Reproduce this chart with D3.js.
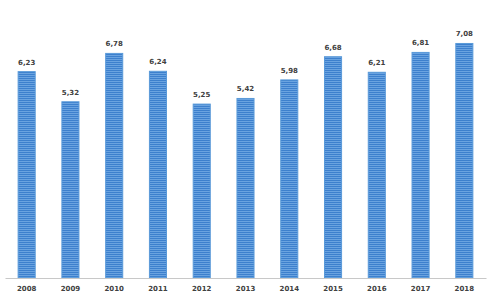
<!DOCTYPE html>
<html>
<head>
<meta charset="utf-8">
<script src="https://cdn.jsdelivr.net/npm/d3@7"></script>
<style>
  body { margin: 0; background: #fff; }
  svg { display: block; }
</style>
</head>
<body>
<div class="chart"></div>
<script>
var width = 490, height = 306;

var years = ['2008', '2009', '2010', '2011', '2012', '2013', '2014', '2015', '2016', '2017', '2018'];
var values = [6.23, 5.32, 6.78, 6.24, 5.25, 5.42, 5.98, 6.68, 6.21, 6.81, 7.08];
var labels = ['6,23', '5,32', '6,78', '6,24', '5,25', '5,42', '5,98', '6,68', '6,21', '6,81', '7,08'];

var data = years.map(function (y, i) {
  return { name: y, value: values[i], label: labels[i] };
});

var svg = d3.select('.chart').append('svg')
  .attr('width', width)
  .attr('height', height);

// striped fill like the original
var pat = svg.append('defs').append('pattern')
  .attr('id', 'stripes')
  .attr('patternUnits', 'userSpaceOnUse')
  .attr('width', 4)
  .attr('height', 2);
pat.append('rect').attr('width', 4).attr('height', 2).attr('fill', '#6aa3e0');
pat.append('rect').attr('width', 4).attr('height', 1).attr('fill', '#3d80cd');

var x = d3.scaleBand()
  .domain(years)
  .range([5, 486])
  .paddingInner(0.61)
  .paddingOuter(0.3);

var y = d3.scaleLinear()
  .domain([0, 8])
  .range([278, 13]);

svg.selectAll('.bar')
  .data(data)
  .enter().append('rect')
  .attr('class', 'bar')
  .attr('x', function (d) { return x(d.name); })
  .attr('y', function (d) { return y(d.value); })
  .attr('width', x.bandwidth())
  .attr('height', function (d) { return y(0) - y(d.value); })
  .attr('fill', 'url(#stripes)')
  .attr('stroke', '#5a9ad9')
  .attr('stroke-width', 1);

// value labels
svg.selectAll('.val')
  .data(data)
  .enter().append('text')
  .attr('class', 'val')
  .attr('x', function (d) { return x(d.name) + x.bandwidth() / 2; })
  .attr('y', function (d) { return y(d.value) - 7; })
  .attr('text-anchor', 'middle')
  .style('font-family', 'DejaVu Sans, sans-serif')
  .style('font-size', '7px')
  .style('font-weight', 'bold')
  .attr('fill', '#404040')
  .text(function (d) { return d.label; });

// x axis
var xAxis = d3.axisBottom(x).tickSize(0).tickPadding(8);
var gx = svg.append('g')
  .attr('transform', 'translate(0,278)')
  .call(xAxis);
gx.select('.domain').attr('stroke', '#c8c8c8').attr('stroke-width', 1.2);
gx.selectAll('text')
  .style('font-family', 'DejaVu Sans, sans-serif')
  .style('font-size', '7px')
  .style('font-weight', 'bold')
  .attr('fill', '#404040');
</script>
</body>
</html>
